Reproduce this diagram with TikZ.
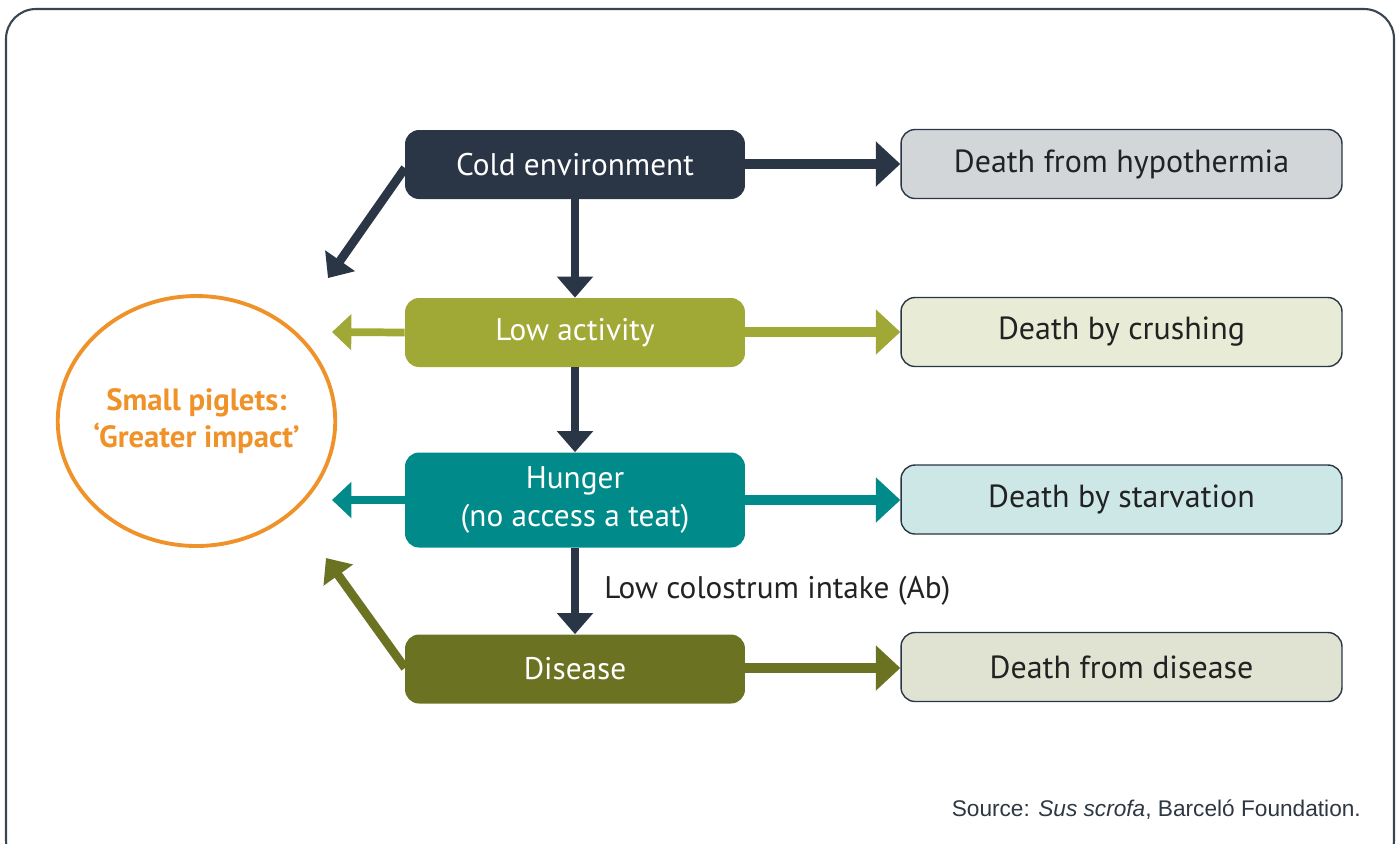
\documentclass[tikz,border=0pt]{standalone}
\usepackage{fontspec}
\setmainfont{PT Sans}
\newfontfamily\srcfont{Liberation Sans}
\usetikzlibrary{arrows.meta,shapes.geometric}
\definecolor{dkc}{HTML}{2A3645}
\definecolor{olc}{HTML}{A0A836}
\definecolor{tlc}{HTML}{008B8A}
\definecolor{dsc}{HTML}{6B7323}
\definecolor{orc}{HTML}{F0922A}
\definecolor{gr1}{HTML}{D3D6D9}
\definecolor{gr2}{HTML}{E8EBD5}
\definecolor{gr3}{HTML}{CDE6E6}
\definecolor{gr4}{HTML}{E0E2D2}
\definecolor{framec}{HTML}{3A4552}
\definecolor{txc}{HTML}{222222}
\begin{document}
\begin{tikzpicture}[x=0.02cm,y=-0.02cm,
  causebox/.style={rounded corners=0.28cm, minimum width=6.8cm, minimum height=1.38cm, text=white, align=center, inner sep=0pt, font=\fontsize{17.8}{21.5}\selectfont},
  deathbox/.style={rounded corners=0.28cm, minimum width=8.82cm, minimum height=1.38cm, draw=dkc, line width=0.8pt, text=txc, inner sep=0pt, font=\fontsize{18.2}{21}\selectfont},
  right arr/.style={line width=5.6pt, -{Triangle[length=14pt,width=25pt]}},
  down arr/.style={line width=5pt, -{Triangle[length=12pt,width=20pt]}},
  left arr/.style={line width=4.4pt, -{Triangle[length=11pt,width=20pt]}}
]
\useasboundingbox (0,0) rectangle (1399,843);
\draw[framec, line width=1.2pt, rounded corners=0.6cm] (6,9) rectangle (1394,870);

\node[causebox, fill=dkc] (cold) at (575,164.5) {Cold environment};
\node[causebox, fill=olc] (low) at (575,332.5) {Low activity};
\node[causebox, fill=tlc, minimum height=1.9cm] (hung) at (575,500) {Hunger\\(no access a teat)};
\node[causebox, fill=dsc] (dis) at (575,669) {Disease};

\node[deathbox, fill=gr1] (d1) at (1121.5,164) {Death from hypothermia};
\node[deathbox, fill=gr2] (d2) at (1121.5,332) {Death by crushing};
\node[deathbox, fill=gr3] (d3) at (1121.5,499.5) {Death by starvation};
\node[deathbox, fill=gr4] (d4) at (1121.5,667) {Death from disease};

\node[draw=orc, line width=2.2pt, ellipse, minimum width=5.55cm, minimum height=5.0cm, inner sep=-30pt, text=orc, align=center, font=\fontsize{17.5}{21}\selectfont\bfseries] (circ) at (196.5,421) {Small piglets:\\`Greater impact'};

\coordinate (t1) at (328,278);
\coordinate (t2) at (332,332);
\coordinate (t3) at (332,500);
\coordinate (t4) at (326,558);
\coordinate (s1) at (405,168);
\coordinate (s4) at (405,668);
\coordinate (e1) at (745,164);
\coordinate (e2) at (745,332);
\coordinate (e3) at (745,500);
\coordinate (e4) at (745,668);

\draw[right arr, dkc] (e1) -- (d1.west |- e1);
\draw[down arr, dkc] (cold.south) -- (low.north);
\draw[down arr, dkc] (s1) -- (t1);
\draw[left arr, olc] (low.west) -- (t2);
\draw[right arr, olc] (e2) -- (d2.west |- e2);
\draw[down arr, dkc] (low.south) -- (hung.north);
\draw[left arr, tlc] (hung.west) -- (t3);
\draw[right arr, tlc] (e3) -- (d3.west |- e3);
\draw[down arr, dkc] (hung.south) -- node[right=0.38cm, text=txc, font=\fontsize{17.8}{21}\selectfont] {Low colostrum intake (Ab)} (dis.north);
\draw[down arr, dsc] (s4) -- (t4);
\draw[right arr, dsc] (e4) -- (d4.west |- e4);

\node[anchor=east, text=framec!80!black, font=\srcfont\fontsize{12.9}{15}\selectfont] (src) at (1367,810) {Source: \textit{Sus scrofa}, Barceló Foundation.};
\end{tikzpicture}
\end{document}
